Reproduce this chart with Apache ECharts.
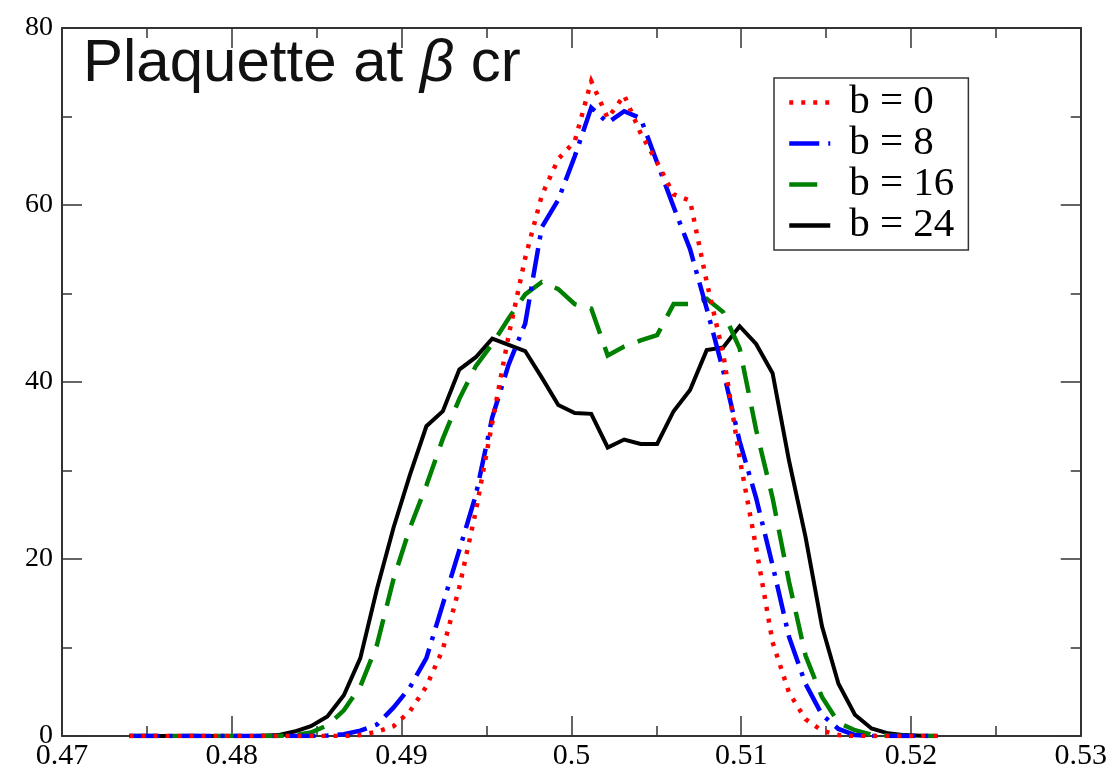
<!DOCTYPE html>
<html>
<head>
<meta charset="utf-8">
<script src="https://cdn.jsdelivr.net/npm/echarts@6/dist/echarts.min.js"></script>
<style>
html,body{margin:0;padding:0;background:#fff;}
#chart{width:1110px;height:771px;}
</style>
</head>
<body>
<div id="chart"></div>
<script>
// Bin centres (plaquette value)
var xVals = [0.47398,0.47495,0.47592,0.47689,0.47786,0.47884,0.47981,0.48078,0.48175,0.48272,
             0.48369,0.48466,0.48563,0.48660,0.48757,0.48855,0.48952,0.49049,0.49146,0.49243,
             0.49340,0.49437,0.49534,0.49631,0.49728,0.49826,0.49923,0.50020,0.50117,0.50214,
             0.50311,0.50408,0.50505,0.50602,0.50699,0.50797,0.50894,0.50991,0.51088,0.51185,
             0.51282,0.51379,0.51476,0.51573,0.51670,0.51768,0.51865,0.51962,0.52059,0.52156];

var b0 = [0,0,0,0,0,0,0,0,0,0,
          0,0,0,0,0.1,0.5,1.1,2.8,5.6,9.8,
          16.8,25.4,35.4,45.3,54.0,61.1,65.2,67.2,74.0,69.8,
          72.4,68.1,64.8,61.2,60.5,51.3,43.2,31.4,21.3,10.6,
          4.9,1.9,0.6,0.1,0,0,0,0,0,0];

var b8 = [0,0,0,0,0,0,0,0,0,0,
          0,0,0.05,0.2,0.6,1.3,3.2,5.5,8.8,14.9,
          21.0,27.2,36.0,42.0,46.6,57.5,60.6,65.5,71.0,69.3,
          70.6,69.8,64.8,59.8,55.0,48.3,41.3,33.3,26.9,19.3,
          11.2,5.9,2.4,0.8,0.1,0,0,0,0,0];

var b16 = [0,0,0,0,0,0,0,0,0,0,
           0.1,0.4,1.2,2.9,5.6,10.3,17.7,23.5,28.3,33.6,
           38.1,41.8,44.3,47.2,49.9,51.3,50.5,48.8,48.3,43.0,
           44.0,44.7,45.3,48.8,48.8,49.4,47.9,43.8,34.6,26.9,
           17.4,9.1,4.4,1.5,0.65,0.15,0.05,0,0,0];

var b24 = [0,0,0,0,0,0,0,0,0.02,0.1,
           0.5,1.1,2.2,4.6,8.8,16.6,23.5,29.5,35.0,36.7,
           41.4,42.8,44.9,44.2,43.5,40.5,37.4,36.5,36.4,32.6,
           33.5,33.0,33.0,36.7,39.1,43.6,43.9,46.3,44.3,41.0,
           31.1,22.5,12.4,5.9,2.4,0.85,0.3,0.1,0.03,0];

var seriesNames = ['b = 0','b = 8','b = 16','b = 24'];
var xTicks = {min:0.47, max:0.53, interval:0.01};
var yTicks = {min:0, max:80, interval:20};

function pairs(ys){ return xVals.map(function(x,i){ return [x, ys[i]]; }); }

var axisColor = '#333';

var chart = echarts.init(document.getElementById('chart'), null, {renderer:'canvas'});

function xAxisCfg(pos, showLabel){
  return {
    type:'value', position:pos, min:xTicks.min, max:xTicks.max, interval:xTicks.interval,
    axisLine:{show:true, onZero:false, lineStyle:{color:axisColor, width:2}},
    axisTick:{show:true, inside:true, length:20, lineStyle:{color:axisColor, width:1.5}},
    minorTick:{show:true, splitNumber:2, length:10, lineStyle:{color:axisColor, width:1.5}},
    splitLine:{show:false}, minorSplitLine:{show:false},
    axisLabel:{show:showLabel, margin:5, fontFamily:'Liberation Serif', fontSize:30, color:'#000'}
  };
}
function yAxisCfg(pos, showLabel){
  return {
    type:'value', position:pos, min:yTicks.min, max:yTicks.max, interval:yTicks.interval,
    axisLine:{show:true, onZero:false, lineStyle:{color:axisColor, width:2}},
    axisTick:{show:true, inside:true, length:20, lineStyle:{color:axisColor, width:1.5}},
    minorTick:{show:true, splitNumber:2, length:10, lineStyle:{color:axisColor, width:1.5}},
    splitLine:{show:false}, minorSplitLine:{show:false},
    axisLabel:{show:showLabel, margin:9, fontFamily:'Liberation Serif', fontSize:28, color:'#000'}
  };
}

var styles = [
  {color:'#ff0000', type:[4,8], width:4.5},
  {color:'#0000ff', type:[30,9,4,9], width:4.5},
  {color:'#008000', type:[28,14], width:4.5},
  {color:'#000000', type:'solid', width:4}
];
var datas = [b0,b8,b16,b24];

var series = seriesNames.map(function(n,k){
  return {
    name:n, type:'line', xAxisIndex:0, yAxisIndex:0,
    data:pairs(datas[k]), symbol:'none', smooth:false, animation:false,
    z: 10 - k,
    lineStyle:{color:styles[k].color, type:styles[k].type, width:styles[k].width, cap:'butt', join:'miter'},
    itemStyle:{color:styles[k].color}
  };
});

chart.setOption({
  animation:false,
  backgroundColor:'#fff',
  grid:{left:62, right:28, top:28, bottom:32, containLabel:false},
  title:{
    left:78, top:29,
    text:'{a|Plaquette at }{b|β}{a| cr}',
    textStyle:{
      rich:{
        a:{fontFamily:'Liberation Sans', fontSize:60, color:'#111', fontWeight:'normal'},
        b:{fontFamily:'Liberation Sans', fontSize:60, color:'#111', fontStyle:'italic', fontWeight:'normal'}
      }
    }
  },
  legend:{
    orient:'vertical', left:774, top:78,
    padding:[4,14,4,13], itemGap:0, itemWidth:41, itemHeight:14,
    borderColor:'#333', borderWidth:1.5, backgroundColor:'#fff',
    data:seriesNames,
    itemStyle:{opacity:0},
    lineStyle:{width:4.5},
    textStyle:{fontFamily:'Liberation Serif', fontSize:41, color:'#000', lineHeight:40, padding:[0,0,0,14]}
  },
  xAxis:[xAxisCfg('bottom', true), xAxisCfg('top', false)],
  yAxis:[yAxisCfg('left', true), yAxisCfg('right', false)],
  series:series
});
</script>
</body>
</html>
